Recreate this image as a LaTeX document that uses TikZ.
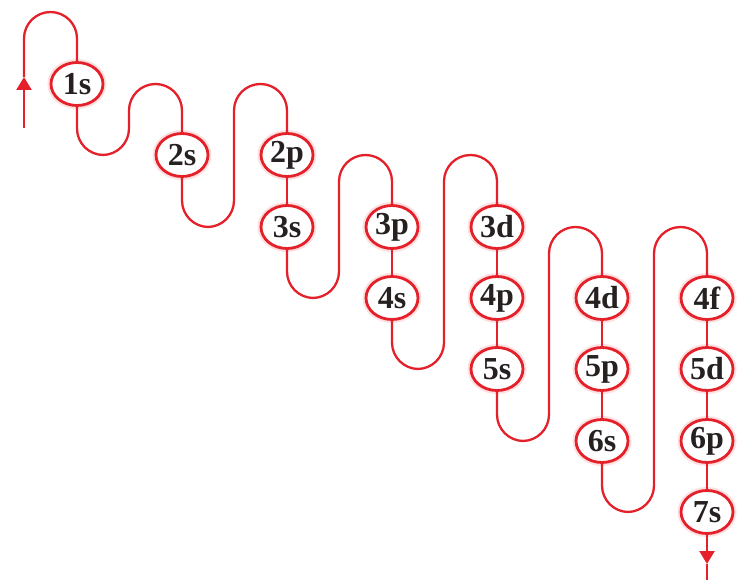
\documentclass[tikz,border=0pt]{standalone}
\usepackage{fontspec}
\setmainfont{Liberation Serif}
\usetikzlibrary{shapes.geometric,arrows.meta}

\definecolor{wirered}{RGB}{228,32,42}
\definecolor{ink}{RGB}{38,32,32}

\begin{document}
\begin{tikzpicture}[
    x=1pt, y=-1pt,
    orb/.style={ellipse, draw=wirered, line width=2.8pt, fill=white, minimum width=52pt, minimum height=43pt, inner sep=0pt, text=ink, font=\bfseries\fontsize{32}{32}\selectfont, preaction={draw=red!12, line width=7pt}},
    wire/.style={draw=wirered, line width=2.3pt, rounded corners=26.5pt},
    tip/.style={-{Triangle[length=13pt,width=15pt]}}
]
\useasboundingbox (0,0) rectangle (738,583);

% column 1 and 2
\node[orb] (orb1s) at (77,84) {1s};
\node[orb] (orb2s) at (182,155) {2s};

% column 3
\node[orb] (orb2p) at (287,155) {2p};
\node[orb] (orb3s) at (287,227) {3s};

% column 4
\node[orb] (orb3p) at (392,227) {3p};
\node[orb] (orb4s) at (392,298) {4s};

% column 5
\node[orb] (orb3d) at (497,227) {3d};
\node[orb] (orb4p) at (497,298) {4p};
\node[orb] (orb5s) at (497,369) {5s};

% column 6
\node[orb] (orb4d) at (602,298) {4d};
\node[orb] (orb5p) at (602,369) {5p};
\node[orb] (orb6s) at (602,441) {6s};

% column 7
\node[orb] (orb4f) at (707,298) {4f};
\node[orb] (orb5d) at (707,369) {5d};
\node[orb] (orb6p) at (707,441) {6p};
\node[orb] (orb7s) at (707,512) {7s};

% ends of the wire
\coordinate (in) at (24,128);
\coordinate (out) at (707,580);

% Wire
\draw[wire, tip] (in) -- (24,77);
\draw[wire] (24,77) -- (24,12) -- (77,12) -- (orb1s);
\draw[wire] (orb1s) -- (77,155) -- (129,155) -- (129,84) -- (182,84) -- (orb2s);
\draw[wire] (orb2s) -- (182,227) -- (234,227) -- (234,84) -- (287,84) -- (orb2p);
\draw[wire] (orb2p) -- (orb3s);
\draw[wire] (orb3s) -- (287,298) -- (339,298) -- (339,155) -- (392,155) -- (orb3p);
\draw[wire] (orb3p) -- (orb4s);
\draw[wire] (orb4s) -- (392,369) -- (444,369) -- (444,155) -- (497,155) -- (orb3d);
\draw[wire] (orb3d) -- (orb4p);
\draw[wire] (orb4p) -- (orb5s);
\draw[wire] (orb5s) -- (497,441) -- (549,441) -- (549,227) -- (602,227) -- (orb4d);
\draw[wire] (orb4d) -- (orb5p);
\draw[wire] (orb5p) -- (orb6s);
\draw[wire] (orb6s) -- (602,512) -- (654,512) -- (654,227) -- (707,227) -- (orb4f);
\draw[wire] (orb4f) -- (orb5d);
\draw[wire] (orb5d) -- (orb6p);
\draw[wire] (orb6p) -- (orb7s);
\draw[wire, tip] (orb7s) -- (707,564);
\draw[wire] (707,564) -- (out);

\end{tikzpicture}
\end{document}
